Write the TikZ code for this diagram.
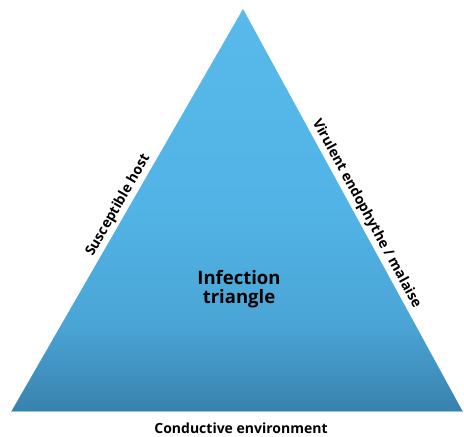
\documentclass[tikz,border=0pt]{standalone}
\usepackage{fontspec}
\setmainfont{Open Sans}
\usepackage{tikz}
\usetikzlibrary{positioning}
\definecolor{skytop}{HTML}{57BAEA}
\definecolor{skymid}{HTML}{52B4E6}
\definecolor{skylow}{HTML}{4AA5D6}
\definecolor{skydeep}{HTML}{3C88B5}
\definecolor{skybot}{HTML}{3881AC}
\definecolor{skyline}{HTML}{86C6E6}
\pgfdeclareverticalshading{skyfade}{100bp}{color(0bp)=(skybot); color(25bp)=(skybot); color(27bp)=(skydeep); color(36bp)=(skylow); color(51bp)=(skymid); color(75bp)=(skytop); color(100bp)=(skytop)}
\tikzset{lbl/.style={font=\bfseries\fontsize{14}{16}\selectfont,text=black,inner sep=2pt}}

\begin{document}
\begin{tikzpicture}[line cap=round,line join=round,x=1pt,y=1pt]
\useasboundingbox (0,0) rectangle (464,437);
\coordinate (apex) at (243,428);
\coordinate (bl) at (11,25);
\coordinate (br) at (463,25);
\shade [shading=skyfade] (bl) -- (apex) -- (br) -- cycle;
\draw [skyline, line width=1pt, line cap=butt] (bl) -- (br);
\path (bl) -- (apex) node[lbl, pos=0.50, sloped, above=1pt] (host) {Susceptible host};
\path (apex) -- (br) node[lbl, pos=0.52, sloped, above=1pt] (agent) {Virulent endophythe / malaise};
\node[lbl, font=\bfseries\fontsize{18.5}{19}\selectfont, align=center] (title) at (239,148) {Infection\\triangle};
\node[lbl] (env) at (241,9) {Conductive environment};
\end{tikzpicture}
\end{document}
